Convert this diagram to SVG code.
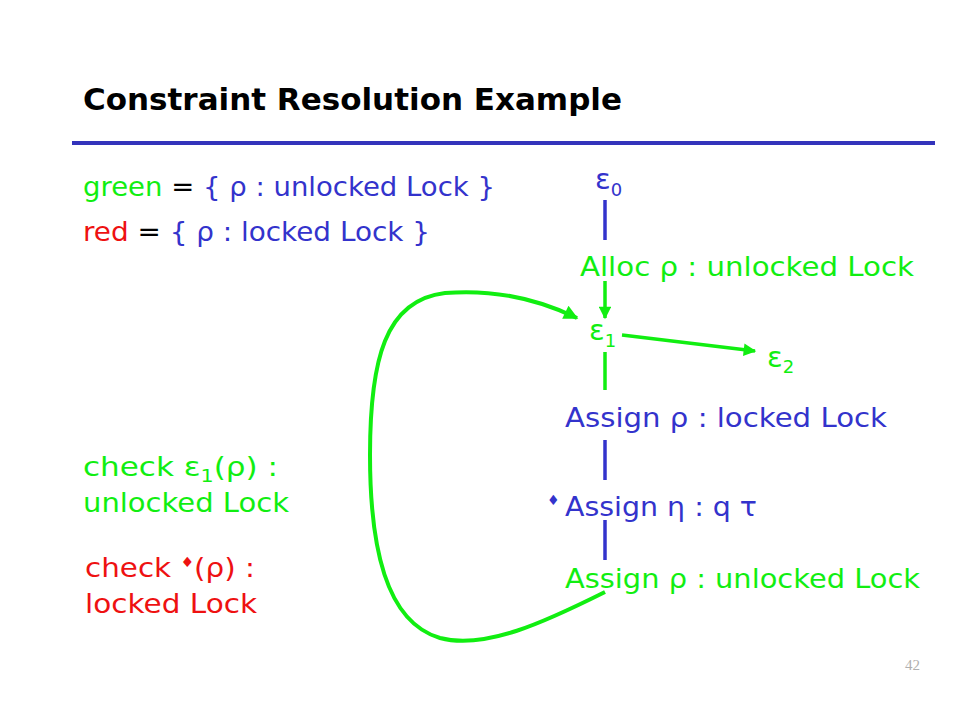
<svg xmlns="http://www.w3.org/2000/svg" width="960" height="720" viewBox="0 0 960 720">
<style>
text{font-family:"DejaVu Sans","Liberation Sans",sans-serif;font-size:27px}
.b{fill:#3333cc}.g{fill:#11ee11}.r{fill:#ee1111}.k{fill:#000}
.sub{font-size:18px}
.eps{font-size:29px}
.ln{stroke-width:3.5;fill:none}
.lb{stroke:#3333cc}.lg{stroke:#11ee11}
</style>
<defs>
<marker id="ah" viewBox="0 0 10 10" refX="9" refY="5" markerWidth="4.2" markerHeight="3.6" orient="auto" markerUnits="strokeWidth">
<path d="M0,0 L10,5 L0,10 z" fill="#11ee11"/>
</marker>
</defs>
<rect width="960" height="720" fill="#fff"/>
<g id="title">
<text x="83" y="110" class="k" style="font-weight:bold;font-size:31px" textLength="539" lengthAdjust="spacingAndGlyphs">Constraint Resolution Example</text>
<rect x="72" y="141" width="863" height="4" fill="#3333bb"/>
</g>
<g id="legend">
<text x="83" y="196" textLength="412" lengthAdjust="spacingAndGlyphs"><tspan class="g">green</tspan><tspan class="k"> = </tspan><tspan class="b">{ ρ : unlocked Lock }</tspan></text>
<text x="83" y="241" textLength="347" lengthAdjust="spacingAndGlyphs"><tspan class="r">red</tspan><tspan class="k"> = </tspan><tspan class="b">{ ρ : locked Lock }</tspan></text>
</g>
<g id="check-green">
<text x="83" y="476" class="g" textLength="195" lengthAdjust="spacingAndGlyphs">check ε<tspan class="sub" dy="6">1</tspan><tspan dy="-6">(ρ) :</tspan></text>
<text x="83" y="512" class="g" textLength="206" lengthAdjust="spacingAndGlyphs">unlocked Lock</text>
</g>
<g id="check-red">
<text x="85" y="577" class="r" textLength="170" lengthAdjust="spacingAndGlyphs">check <tspan style="font-size:14px" dy="-10">♦</tspan><tspan dy="10">(ρ) :</tspan></text>
<text x="85" y="613" class="r" textLength="172" lengthAdjust="spacingAndGlyphs">locked Lock</text>
</g>
<g id="connectors">
<line x1="605" y1="200" x2="605" y2="240" class="ln lb"/>
<line x1="605" y1="281" x2="605" y2="318" class="ln lg" marker-end="url(#ah)"/>
<line x1="622" y1="335" x2="755" y2="351" class="ln lg" marker-end="url(#ah)"/>
<line x1="605" y1="352" x2="605" y2="390" class="ln lg"/>
<line x1="605" y1="440" x2="605" y2="480" class="ln lb"/>
<line x1="605" y1="520" x2="605" y2="560" class="ln lb"/>
<path d="M605,592 C545,622 485,650 440,638 C385,622 370,545 370,455 C370,360 385,300 445,293 C495,289 540,300 577,318" class="ln lg" style="stroke-width:4" marker-end="url(#ah)"/>
</g>
<g id="e0">
<text x="595" y="189" class="b"><tspan class="eps">ε</tspan><tspan class="sub" dy="7">0</tspan></text>
</g>
<g id="alloc">
<text x="580" y="276" class="g" textLength="334" lengthAdjust="spacingAndGlyphs">Alloc ρ : unlocked Lock</text>
</g>
<g id="e1">
<text x="589" y="340" class="g"><tspan class="eps">ε</tspan><tspan class="sub" dy="7">1</tspan></text>
</g>
<g id="e2">
<text x="767" y="367" class="g"><tspan class="eps">ε</tspan><tspan class="sub" dy="6">2</tspan></text>
</g>
<g id="assign-locked">
<text x="565" y="427" class="b" textLength="322" lengthAdjust="spacingAndGlyphs">Assign ρ : locked Lock</text>
</g>
<g id="assign-eta">
<text x="547" y="505" class="b" style="font-size:14px">♦</text>
<text x="565" y="516" class="b" textLength="192" lengthAdjust="spacingAndGlyphs">Assign η : q τ</text>
</g>
<g id="assign-unlocked">
<text x="565" y="588" class="g" textLength="355" lengthAdjust="spacingAndGlyphs">Assign ρ : unlocked Lock</text>
</g>
<g id="page">
<text x="905" y="670" style="font-family:'Liberation Serif',serif;font-size:15px;fill:#b0b0b0">42</text>
</g>
</svg>
